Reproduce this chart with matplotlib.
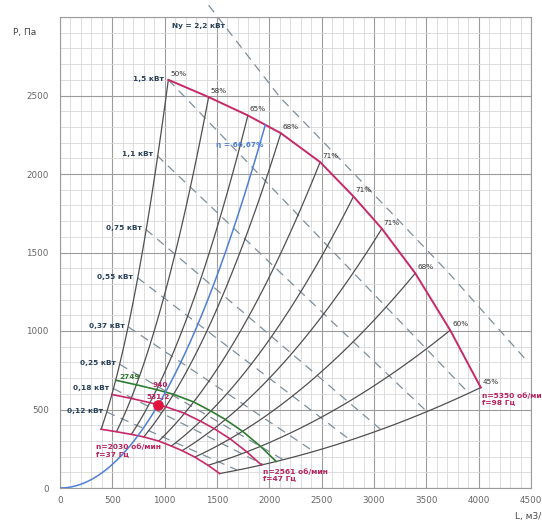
import numpy as np
import matplotlib
matplotlib.use("Agg")
import matplotlib.pyplot as plt
from matplotlib.ticker import MultipleLocator

# Fan curve at maximum speed: airflow (m3/h), pressure (Pa), efficiency
flow_max = [1035, 1420, 1795, 2110, 2485, 2804, 3075, 3394, 3728, 4020]
pressure_max = [2600, 2490, 2373, 2260, 2076, 1857, 1652, 1368, 1005, 640]
efficiency_labels = ["50%", "58%", "65%", "68%", "71%", "71%", "71%", "68%", "60%", "45%"]

# Rotational speeds (rpm) and supply frequencies (Hz)
speed_max, freq_max = 5350, 98
speed_min, freq_min = 2030, 37
speed_duty, freq_duty = 2561, 47
speed_alt = 2749

# Duty point
duty_flow = 940
duty_pressure = 531.2
duty_efficiency = "66,67%"

# Shaft power lines (dashed): start and end points
power_labels = ["0,12 кВт", "0,18 кВт", "0,25 кВт", "0,37 кВт",
                "0,55 кВт", "0,75 кВт", "1,1 кВт", "1,5 кВт"]
power_start_flow = [447, 511, 570, 653, 739, 819, 927, 1035]
power_start_pressure = [484, 633, 788, 1026, 1340, 1648, 2118, 2600]
power_end_flow = [1690, 1940, 2130, 2420, 2770, 3060, 3500, 3900]
power_end_pressure = [115, 150, 181, 234, 307, 375, 490, 608]

# Motor rated power line
motor_label = "Ny = 2,2 кВт"
motor_flow = [1420, 2100, 2870, 3700, 4474]
motor_pressure = [3075, 2490, 1960, 1380, 800]

PINK = "#c8286a"
PINK_TXT = "#b8235f"
GREEN = "#2f7d32"
BLUE = "#4f7fd6"
DARK = "#505050"
DASH = "#7d8e9c"
NAVY = "#27405a"

fig = plt.figure(figsize=(5.42, 5.24), dpi=100)
ax = fig.add_axes([60 / 542, 1 - 488 / 524, 471 / 542, 471 / 524])
ax.set_xlim(0, 4500)
ax.set_ylim(0, 3000)

# grid
ax.xaxis.set_major_locator(MultipleLocator(500))
ax.yaxis.set_major_locator(MultipleLocator(500))
ax.xaxis.set_minor_locator(MultipleLocator(100))
ax.yaxis.set_minor_locator(MultipleLocator(100))
ax.grid(which="minor", color="#d8d8d8", lw=0.6)
ax.grid(which="major", color="#9c9c9c", lw=0.8)
ax.set_axisbelow(True)
for s in ax.spines.values():
    s.set_color("#9c9c9c")
    s.set_linewidth(0.8)
ax.tick_params(which="both", length=0, labelsize=6.3, colors="#666666")
ax.tick_params(axis="y", pad=8)
ax.tick_params(axis="x", pad=6)
yt = np.arange(0, 3001, 500)
ax.set_yticks(yt, [str(v) if v < 3000 else "" for v in yt])

fmax = np.array(flow_max, float)
pmax = np.array(pressure_max, float)

# system curves through each point of the maximum-speed curve
r_min = speed_min / speed_max
for L0, P0 in zip(fmax, pmax):
    L = np.linspace(L0 * r_min, L0, 80)
    ax.plot(L, P0 * (L / L0) ** 2, color=DARK, lw=0.9, zorder=3)

# constant power lines
for lbl, x0, y0, x1, y1 in zip(power_labels, power_start_flow, power_start_pressure,
                               power_end_flow, power_end_pressure):
    ax.plot([x0, x1], [y0, y1], color=DASH, lw=0.9, ls=(0, (7, 5)), zorder=2)
    ax.annotate(lbl, (x0, y0), xytext=(-4, 1), textcoords="offset pixels",
                ha="right", va="center", fontsize=5.3, fontweight="bold", color=NAVY)

ax.plot(motor_flow, motor_pressure, color=DASH, lw=0.9, ls=(0, (7, 5)),
        zorder=2, clip_on=False)
ax.text(1320, 2940, motor_label, ha="center", va="center", fontsize=5.3,
        fontweight="bold", color=NAVY, zorder=5)

# speed curves by the fan affinity laws
def speed_curve(n):
    r = n / speed_max
    return fmax * r, pmax * r ** 2

ax.plot(fmax, pmax, color=PINK, lw=1.4, zorder=4)
for n, col, lw in [(speed_min, PINK, 1.2), (speed_duty, PINK, 1.2), (speed_alt, GREEN, 1.2)]:
    L, P = speed_curve(n)
    ax.plot(L, P, color=col, lw=lw, zorder=4)

# efficiency labels on the maximum-speed curve
for L0, P0, e in zip(fmax, pmax, efficiency_labels):
    ax.annotate(e, (L0, P0), xytext=(2, 6), textcoords="offset pixels",
                ha="left", va="center", fontsize=5.2, color="#333333", zorder=6)

# system curve through the duty point
k = duty_pressure / duty_flow ** 2
Lg = np.linspace(0, fmax[-1], 4000)
diff = k * Lg ** 2 - np.interp(Lg, fmax, pmax, left=np.inf)
L_end = Lg[np.argmax(diff >= 0)]
L = np.linspace(0, L_end, 200)
ax.plot(L, k * L ** 2, color=BLUE, lw=1.1, zorder=4)
ax.text(1721, 2182, "η = " + duty_efficiency, ha="center", va="center",
        fontsize=5.3, fontweight="bold", color=BLUE, zorder=6)

# duty point
ax.plot([duty_flow], [duty_pressure], "o", ms=6.7, color="#e0143c", zorder=7)
ax.annotate(f"{duty_flow:.0f}", (duty_flow, duty_pressure), xytext=(1.5, 20),
            textcoords="offset pixels", ha="center", va="center", fontsize=5.3,
            fontweight="bold", color=PINK_TXT, zorder=8)
ax.annotate(f"{duty_pressure:.1f}".replace(".", ","), (duty_flow, duty_pressure),
            xytext=(0, 8), textcoords="offset pixels", ha="center", va="center",
            fontsize=5.3, fontweight="bold", color=PINK_TXT, zorder=8)

# speed annotations
Lg2, Pg2 = speed_curve(speed_alt)
ax.annotate(str(speed_alt), (Lg2[0], Pg2[0]), xytext=(4, 3), textcoords="offset pixels",
            ha="left", va="center", fontsize=5.3, fontweight="bold", color=GREEN, zorder=6)

Lm, Pm = speed_curve(speed_min)
ax.annotate(f"n={speed_min} об/мин\nf={freq_min} Гц", (Lm[0], Pm[0]), xytext=(-5, -21),
            textcoords="offset pixels", ha="left", va="center", fontsize=5.4,
            fontweight="bold", color=PINK_TXT, linespacing=1.05, zorder=6)

Ld, Pd = speed_curve(speed_duty)
ax.annotate(f"n={speed_duty} об/мин\nf={freq_duty} Гц", (Ld[-1], Pd[-1]), xytext=(2, -10),
            textcoords="offset pixels", ha="left", va="center", fontsize=5.4,
            fontweight="bold", color=PINK_TXT, linespacing=1.05, zorder=6)

ax.annotate(f"n={speed_max} об/мин\nf={freq_max} Гц", (fmax[-1], pmax[-1]), xytext=(1, -11),
            textcoords="offset pixels", ha="left", va="center", fontsize=5.4,
            fontweight="bold", color=PINK_TXT, linespacing=1.05, zorder=6,
            annotation_clip=False)

# axis titles
fig.text(13 / 542, 1 - 33 / 524, "P, Па", ha="left", va="center", fontsize=6.5, color="#444444")
fig.text(515 / 542, 1 - 517 / 524, "L, м3/ч", ha="left", va="center", fontsize=6.5, color="#444444")

fig.savefig("out.png", dpi=100)
